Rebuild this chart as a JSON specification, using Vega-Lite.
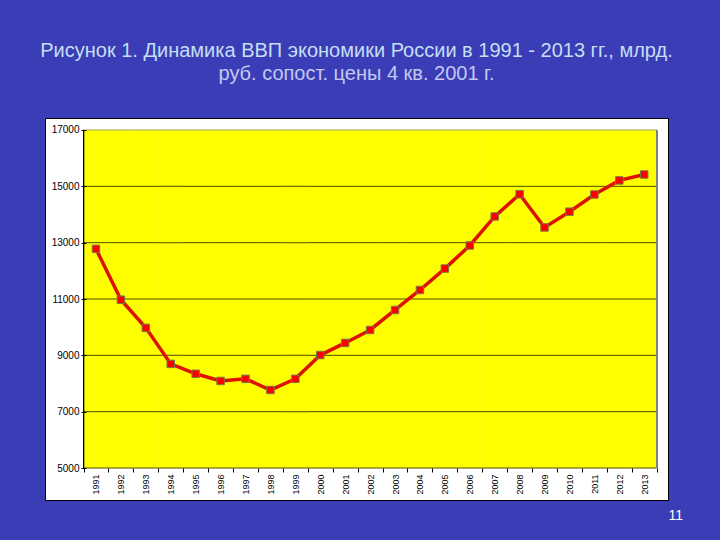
{
  "$schema": "https://vega.github.io/schema/vega-lite/v6.json",
  "width": 623,
  "height": 382,
  "autosize": {"type": "none"},
  "padding": {"left": 45, "top": 118, "right": 52, "bottom": 40},
  "background": "#3a3db5",
  "title": {
    "text": "Рисунок 1. Динамика ВВП экономики России в 1991 - 2013 гг., млрд.",
    "subtitle": "руб. сопост. цены 4 кв. 2001 г.",
    "anchor": "middle",
    "offset": 34,
    "font": "Liberation Sans",
    "fontSize": 20,
    "fontWeight": "normal",
    "color": "#c4def4",
    "subtitleFont": "Liberation Sans",
    "subtitleFontSize": 20,
    "subtitleColor": "#c4c8f0",
    "subtitlePadding": 3
  },
  "data": {
    "values": [
      {"year": "1991", "gdp": 12780},
      {"year": "1992", "gdp": 10975},
      {"year": "1993", "gdp": 9975},
      {"year": "1994", "gdp": 8695},
      {"year": "1995", "gdp": 8345},
      {"year": "1996", "gdp": 8090},
      {"year": "1997", "gdp": 8165},
      {"year": "1998", "gdp": 7770},
      {"year": "1999", "gdp": 8165},
      {"year": "2000", "gdp": 9010},
      {"year": "2001", "gdp": 9440},
      {"year": "2002", "gdp": 9900},
      {"year": "2003", "gdp": 10610},
      {"year": "2004", "gdp": 11320},
      {"year": "2005", "gdp": 12080},
      {"year": "2006", "gdp": 12900},
      {"year": "2007", "gdp": 13930},
      {"year": "2008", "gdp": 14720},
      {"year": "2009", "gdp": 13540},
      {"year": "2010", "gdp": 14100},
      {"year": "2011", "gdp": 14710},
      {"year": "2012", "gdp": 15210},
      {"year": "2013", "gdp": 15420}
    ]
  },
  "encoding": {
    "x": {
      "field": "year",
      "type": "ordinal",
      "scale": {"type": "band", "paddingInner": 0, "paddingOuter": 1.07, "align": 0.773},
      "axis": {
        "orient": "bottom",
        "offset": -32,
        "tickBand": "extent",
        "domain": false,
        "grid": false,
        "labelAngle": 270,
        "labelFontSize": 9,
        "labelFont": "Liberation Sans",
        "labelColor": "black",
        "tickColor": "black",
        "tickSize": 4,
        "labelPadding": 2,
        "title": "11",
        "titleAnchor": "end",
        "titleAlign": "left",
        "titleColor": "white",
        "titleFontSize": 14,
        "titleFontWeight": "normal",
        "titleFont": "Liberation Sans",
        "titlePadding": 14,
        "zindex": 1
      }
    }
  },
  "layer": [
    {
      "mark": {"type": "bar", "color": "#ffff00", "stroke": "#ffff00", "strokeWidth": 0.6},
      "encoding": {
        "y": {"datum": 5000, "type": "quantitative", "scale": {"domain": [3864, 17426], "nice": false, "zero": false},
          "axis": {"values": [5000, 7000, 9000, 11000, 13000, 15000, 17000], "format": "d", "offset": -41, "domain": false, "grid": false, "tickSize": 5, "tickColor": "black", "labelFont": "Liberation Sans", "labelFontSize": 10, "labelColor": "black", "labelPadding": 2, "title": null, "zindex": 1}},
        "y2": {"datum": 17000}
      }
    },
    {"mark": {"type": "tick", "color": "black", "thickness": 1},
     "encoding": {"y": {"datum": 5000, "type": "quantitative", "scale": {"domain": [3864, 17426], "nice": false, "zero": false},
       "axis": {"values": [5000, 7000, 9000, 11000, 13000, 15000, 17000], "format": "d", "offset": -41, "domain": false, "grid": false, "tickSize": 5, "tickColor": "black", "labelFont": "Liberation Sans", "labelFontSize": 10, "labelColor": "black", "labelPadding": 2, "title": null, "zindex": 1}}}},
    {"mark": {"type": "tick", "color": "black", "thickness": 1},
     "encoding": {"y": {"datum": 7000, "type": "quantitative", "scale": {"domain": [3864, 17426], "nice": false, "zero": false},
       "axis": {"values": [5000, 7000, 9000, 11000, 13000, 15000, 17000], "format": "d", "offset": -41, "domain": false, "grid": false, "tickSize": 5, "tickColor": "black", "labelFont": "Liberation Sans", "labelFontSize": 10, "labelColor": "black", "labelPadding": 2, "title": null, "zindex": 1}}}},
    {"mark": {"type": "tick", "color": "black", "thickness": 1},
     "encoding": {"y": {"datum": 9000, "type": "quantitative", "scale": {"domain": [3864, 17426], "nice": false, "zero": false},
       "axis": {"values": [5000, 7000, 9000, 11000, 13000, 15000, 17000], "format": "d", "offset": -41, "domain": false, "grid": false, "tickSize": 5, "tickColor": "black", "labelFont": "Liberation Sans", "labelFontSize": 10, "labelColor": "black", "labelPadding": 2, "title": null, "zindex": 1}}}},
    {"mark": {"type": "tick", "color": "black", "thickness": 1},
     "encoding": {"y": {"datum": 11000, "type": "quantitative", "scale": {"domain": [3864, 17426], "nice": false, "zero": false},
       "axis": {"values": [5000, 7000, 9000, 11000, 13000, 15000, 17000], "format": "d", "offset": -41, "domain": false, "grid": false, "tickSize": 5, "tickColor": "black", "labelFont": "Liberation Sans", "labelFontSize": 10, "labelColor": "black", "labelPadding": 2, "title": null, "zindex": 1}}}},
    {"mark": {"type": "tick", "color": "black", "thickness": 1},
     "encoding": {"y": {"datum": 13000, "type": "quantitative", "scale": {"domain": [3864, 17426], "nice": false, "zero": false},
       "axis": {"values": [5000, 7000, 9000, 11000, 13000, 15000, 17000], "format": "d", "offset": -41, "domain": false, "grid": false, "tickSize": 5, "tickColor": "black", "labelFont": "Liberation Sans", "labelFontSize": 10, "labelColor": "black", "labelPadding": 2, "title": null, "zindex": 1}}}},
    {"mark": {"type": "tick", "color": "black", "thickness": 1},
     "encoding": {"y": {"datum": 15000, "type": "quantitative", "scale": {"domain": [3864, 17426], "nice": false, "zero": false},
       "axis": {"values": [5000, 7000, 9000, 11000, 13000, 15000, 17000], "format": "d", "offset": -41, "domain": false, "grid": false, "tickSize": 5, "tickColor": "black", "labelFont": "Liberation Sans", "labelFontSize": 10, "labelColor": "black", "labelPadding": 2, "title": null, "zindex": 1}}}},
    {"mark": {"type": "tick", "color": "#808080", "thickness": 1},
     "encoding": {"y": {"datum": 17000, "type": "quantitative", "scale": {"domain": [3864, 17426], "nice": false, "zero": false},
       "axis": {"values": [5000, 7000, 9000, 11000, 13000, 15000, 17000], "format": "d", "offset": -41, "domain": false, "grid": false, "tickSize": 5, "tickColor": "black", "labelFont": "Liberation Sans", "labelFontSize": 10, "labelColor": "black", "labelPadding": 2, "title": null, "zindex": 1}}}},
    {
      "mark": {"type": "rule", "color": "black", "strokeWidth": 1},
      "encoding": {
        "x": {"datum": "1991", "type": "ordinal", "bandPosition": 0},
        "y": {"datum": 5000, "type": "quantitative", "scale": {"domain": [3864, 17426], "nice": false, "zero": false},
          "axis": {"values": [5000, 7000, 9000, 11000, 13000, 15000, 17000], "format": "d", "offset": -41, "domain": false, "grid": false, "tickSize": 5, "tickColor": "black", "labelFont": "Liberation Sans", "labelFontSize": 10, "labelColor": "black", "labelPadding": 2, "title": null, "zindex": 1}},
        "y2": {"datum": 17000}
      }
    },
    {
      "mark": {"type": "rule", "color": "#808080", "strokeWidth": 1},
      "encoding": {
        "x": {"datum": "2013", "type": "ordinal", "bandPosition": 1},
        "y": {"datum": 5000, "type": "quantitative", "scale": {"domain": [3864, 17426], "nice": false, "zero": false},
          "axis": {"values": [5000, 7000, 9000, 11000, 13000, 15000, 17000], "format": "d", "offset": -41, "domain": false, "grid": false, "tickSize": 5, "tickColor": "black", "labelFont": "Liberation Sans", "labelFontSize": 10, "labelColor": "black", "labelPadding": 2, "title": null, "zindex": 1}},
        "y2": {"datum": 17000}
      }
    },
    {
      "mark": {"type": "line", "color": "#dd1100", "strokeWidth": 3.5},
      "encoding": {
        "y": {"field": "gdp", "type": "quantitative", "scale": {"domain": [3864, 17426], "nice": false, "zero": false},
          "axis": {"values": [5000, 7000, 9000, 11000, 13000, 15000, 17000], "format": "d", "offset": -41, "domain": false, "grid": false, "tickSize": 5, "tickColor": "black", "labelFont": "Liberation Sans", "labelFontSize": 10, "labelColor": "black", "labelPadding": 2, "title": null, "zindex": 1}}
      }
    },
    {
      "mark": {"type": "point", "shape": "square", "filled": true, "fill": "#ff0000", "stroke": "#7a7a4a", "strokeWidth": 1, "size": 56, "opacity": 1},
      "encoding": {
        "y": {"field": "gdp", "type": "quantitative", "scale": {"domain": [3864, 17426], "nice": false, "zero": false},
          "axis": {"values": [5000, 7000, 9000, 11000, 13000, 15000, 17000], "format": "d", "offset": -41, "domain": false, "grid": false, "tickSize": 5, "tickColor": "black", "labelFont": "Liberation Sans", "labelFontSize": 10, "labelColor": "black", "labelPadding": 2, "title": null, "zindex": 1}}
      }
    }
  ],
  "config": {
    "view": {"fill": "white", "stroke": "black", "strokeWidth": 1},
    "tick": {"bandSize": 1}
  }
}
